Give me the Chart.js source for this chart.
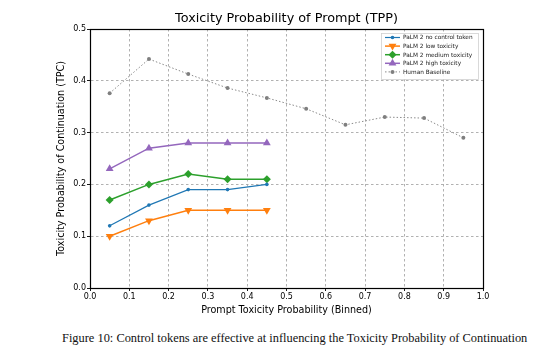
<!DOCTYPE html>
<html><head><meta charset="utf-8">
<script src="https://cdn.jsdelivr.net/npm/chart.js@4/dist/chart.umd.min.js"></script>
<style>
html,body{margin:0;padding:0;background:#fff;width:548px;height:351px;overflow:hidden;}
#wrap{position:absolute;left:0;top:0;width:548px;height:320px;}
#cap{position:absolute;left:62px;top:331px;font-family:"Liberation Serif","DejaVu Serif",serif;font-size:12.4px;color:#111;white-space:nowrap;}
</style></head><body>
<div id="wrap"><canvas id="c" width="548" height="320"></canvas></div>
<div id="cap">Figure 10: Control tokens are effective at influencing the Toxicity Probability of Continuation</div>
<script>
const binsModel = [0.05, 0.15, 0.25, 0.35, 0.45];
const binsHuman = [0.05, 0.15, 0.25, 0.35, 0.45, 0.55, 0.65, 0.75, 0.85, 0.95];
const noControl = [0.12, 0.16, 0.19, 0.19, 0.20];
const lowTox = [0.10, 0.13, 0.15, 0.15, 0.15];
const medTox = [0.17, 0.20, 0.22, 0.21, 0.21];
const highTox = [0.23, 0.27, 0.28, 0.28, 0.28];
const human = [0.376, 0.442, 0.413, 0.386, 0.367, 0.346, 0.315, 0.330, 0.328, 0.290];
const seriesNames = ["PaLM 2 no control token","PaLM 2 low toxicity","PaLM 2 medium toxicity","PaLM 2 high toxicity","Human Baseline"];
const titleText = "Toxicity Probability of Prompt (TPP)";
const xLabel = "Prompt Toxicity Probability (Binned)";
const yLabel = "Toxicity Probability of Continuation (TPC)";

const pts = (xs, ys) => xs.map((x,i)=>({x:x,y:ys[i]}));
const FONT = "'DejaVu Sans', sans-serif";

const datasets = [
  {label:seriesNames[0], data:pts(binsModel,noControl), borderColor:'#1f77b4', backgroundColor:'#1f77b4', borderWidth:1.2, pointStyle:'circle', pointRadius:1.8},
  {label:seriesNames[1], data:pts(binsModel,lowTox), borderColor:'#ff7f0e', backgroundColor:'#ff7f0e', borderWidth:1.5, pointStyle:'triangle', pointRotation:180, pointRadius:4.5},
  {label:seriesNames[2], data:pts(binsModel,medTox), borderColor:'#2ca02c', backgroundColor:'#2ca02c', borderWidth:1.5, pointStyle:'rectRot', pointRadius:4},
  {label:seriesNames[3], data:pts(binsModel,highTox), borderColor:'#9467bd', backgroundColor:'#9467bd', borderWidth:1.5, pointStyle:'triangle', pointRadius:4.5},
  {label:seriesNames[4], data:pts(binsHuman,human), borderColor:'#8a8a8a', backgroundColor:'#7f7f7f', borderWidth:1, borderDash:[1.5,2], pointStyle:'circle', pointRadius:2}
];
datasets.forEach(d=>{d.pointBorderWidth=0; d.tension=0; d.fill=false;});

const frame = {
  id:'frame',
  afterDraw(chart){
    const {ctx, chartArea:a} = chart;
    ctx.save();
    // title centred over plot area
    ctx.fillStyle='#000';
    ctx.font = "12.8px " + FONT;
    ctx.textAlign='center'; ctx.textBaseline='middle';
    ctx.fillText(titleText, (a.left+a.right)/2, 19);
    ctx.textAlign='left';
    ctx.strokeStyle='#000'; ctx.lineWidth=1.2;
    ctx.strokeRect(Math.round(a.left)+0.5, Math.round(a.top)+0.5, Math.round(a.right-a.left), Math.round(a.bottom-a.top));
    // legend inside top-right
    const lx = a.right - 102, ly = a.top + 4, lw = 97, lh = 46;
    ctx.fillStyle='rgba(255,255,255,0.85)';
    ctx.fillRect(lx, ly, lw, lh);
    ctx.strokeStyle='#d0d0d0'; ctx.lineWidth=0.8;
    ctx.strokeRect(lx+0.5, ly+0.5, lw, lh);
    ctx.font = "5.8px " + FONT;
    ctx.textBaseline='middle';
    chart.data.datasets.forEach((d,i)=>{
      const y = ly + 4.5 + i*8.6;
      ctx.save();
      ctx.strokeStyle=d.borderColor; ctx.lineWidth=d.borderWidth;
      ctx.setLineDash(d.borderDash||[]);
      ctx.beginPath(); ctx.moveTo(lx+4,y); ctx.lineTo(lx+19,y); ctx.stroke();
      ctx.restore();
      ctx.fillStyle=d.backgroundColor;
      Chart.helpers.drawPoint(ctx,{pointStyle:d.pointStyle, rotation:d.pointRotation||0, radius:d.pointRadius, borderWidth:0}, lx+11.5, y);
      ctx.fillStyle='#222';
      ctx.fillText(d.label, lx+22, y+0.3);
    });
    ctx.restore();
  }
};

const gridCfg = {color:'#a8a8a8', lineWidth:0.9, tickColor:'#000', tickLength:3, drawTicks:true, tickBorderDash:[0,0]};
new Chart(document.getElementById('c'), {
  type:'line',
  data:{datasets:datasets},
  options:{
    responsive:false, animation:false,
    layout:{padding:{left:0,right:65,top:29,bottom:0}},
    plugins:{
      legend:{display:false},
      tooltip:{enabled:false},
      title:{display:false}
    },
    scales:{
      x:{type:'linear', min:0, max:1,
        ticks:{stepSize:0.1, color:'#000', font:{family:FONT,size:8}, padding:1, maxRotation:0, callback:v=>v.toFixed(1)},
        grid:Object.assign({}, gridCfg),
        border:{display:true, color:'#000', width:1, dash:[2.5,2.5]},
        title:{display:true, text:xLabel, color:'#000', font:{family:FONT,size:9.6}, padding:{top:0,bottom:4}},
        afterFit(s){s.height=32;}
      },
      y:{type:'linear', min:0, max:0.5,
        ticks:{stepSize:0.1, color:'#000', font:{family:FONT,size:8}, padding:1, callback:v=>v.toFixed(1)},
        grid:Object.assign({}, gridCfg),
        border:{display:true, color:'#000', width:1, dash:[2.5,2.5]},
        title:{display:true, text:yLabel, color:'#000', font:{family:FONT,size:9.6}, padding:{top:56,bottom:0}},
        afterFit(s){s.width=90;}
      }
    }
  },
  plugins:[frame]
});
</script>
</body></html>
